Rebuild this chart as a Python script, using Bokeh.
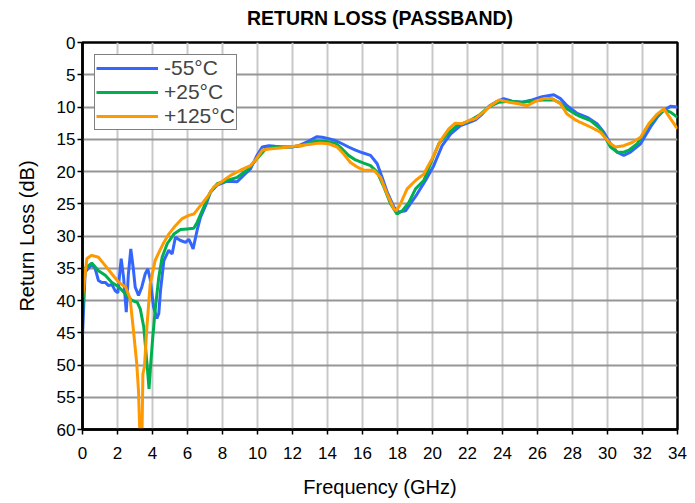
from bokeh.plotting import figure
from bokeh.models import Range1d, FixedTicker, LinearAxis
from bokeh.embed import file_html
from bokeh.resources import INLINE

# ---- data ----
freq_m55 = [0, 0.15, 0.34, 0.53, 0.72, 0.91, 1.1, 1.3, 1.49, 1.68, 1.87, 2.02, 2.21, 2.35, 2.5, 2.62, 2.76, 2.9,
            3.01, 3.2, 3.39, 3.58, 3.73, 3.87, 4.06, 4.25, 4.36, 4.46, 4.65, 4.93, 5.12, 5.31, 5.6, 5.89, 6.07,
            6.2, 6.32, 6.55, 6.74, 7.03, 7.31, 7.7, 8.27, 8.84, 9.2, 9.6, 9.95, 10.27, 10.65, 11.0, 11.4, 11.97,
            12.36, 12.93, 13.4, 13.7, 14.07, 14.45, 14.84, 15.2, 15.6, 16.0, 16.46, 16.84, 17.12, 17.41, 17.79,
            18.08, 18.46, 18.74, 19.12, 19.6, 20.07, 20.55, 21.03, 21.6, 22.07, 22.46, 22.84, 23.22, 23.6, 24.07,
            24.55, 25.12, 25.69, 26.27, 26.93, 27.31, 27.69, 28.27, 28.84, 29.4, 29.79, 30.17, 30.55, 30.93,
            31.31, 31.89, 32.46, 32.84, 33.22, 33.6, 34.0]
rl_m55 = [45.4, 35.6, 35.0, 34.5, 35.0, 36.9, 37.2, 37.2, 37.7, 37.5, 38.5, 38.8, 33.5, 36.5, 41.8, 36.0, 32.0, 35.0,
          37.9, 39.2, 37.9, 35.9, 35.1, 36.7, 41.0, 42.8, 42.0, 38.4, 33.8, 32.2, 32.8, 30.2, 30.7, 31.0, 30.5,
          31.2, 32.0, 29.1, 27.1, 25.3, 23.2, 22.1, 21.5, 21.6, 20.6, 19.6, 17.6, 16.2, 16.0, 16.1, 16.2, 16.2,
          16.0, 15.3, 14.6, 14.7, 14.9, 15.2, 15.7, 16.2, 16.7, 17.1, 17.5, 18.8, 20.9, 23.2, 25.5,
          26.3, 26.1, 25.0, 23.5, 21.4, 19.1, 16.0, 14.2, 12.9, 12.4, 12.0, 11.1, 9.9, 9.25, 8.7,
          9.1, 9.25, 8.9, 8.4, 8.1, 8.7, 9.8, 11.0, 11.6, 12.6, 13.9, 15.7, 17.0, 17.5,
          17.0, 15.7, 13.1, 11.6, 10.5, 9.9, 10.0]

freq_p25 = [0, 0.15, 0.53, 0.91, 1.3, 1.68, 2.08, 2.46, 2.84, 3.13, 3.3, 3.5, 3.7, 3.8, 3.9, 4.0, 4.17, 4.36, 4.55,
            4.84, 5.22, 5.6, 5.98, 6.36, 6.55, 6.93, 7.31, 7.7, 8.27, 8.84, 9.4, 9.98, 10.46, 11.0, 11.8, 12.55,
            13.31, 13.9, 14.45, 14.84, 15.2, 15.6, 16.07, 16.46, 16.84, 17.22, 17.6, 17.98, 18.27, 18.65, 19.03,
            19.5, 19.89, 20.36, 20.84, 21.4, 22.07, 22.65, 23.22, 23.8, 24.36, 25.12, 25.69, 26.27, 26.93, 27.31,
            27.69, 28.17, 28.46, 29.03, 29.6, 30.17, 30.55, 30.93, 31.22, 31.7, 32.27, 32.74, 33.22, 33.6, 34.0]
rl_p25 = [41.8, 35.0, 34.2, 35.4, 36.1, 37.2, 37.9, 39.0, 40.0, 40.3, 41.3, 44.1, 50.3, 53.7, 49.8, 46.2, 41.0, 36.4,
          33.3, 31.2, 29.7, 29.0, 28.9, 28.8, 27.9, 25.5, 23.2, 21.9, 21.4, 20.9, 19.8, 18.0, 16.5, 16.2, 16.2,
          16.0, 15.3, 15.3, 15.6, 16.5, 17.5, 18.2, 18.7, 19.1, 20.1, 22.4, 25.0, 26.6, 26.1, 24.8, 22.7, 21.4,
          18.8, 15.7, 14.2, 12.9, 12.2, 11.3, 10.0, 9.25, 9.1, 9.25, 9.1, 8.9, 8.9, 9.4, 10.3, 11.1, 11.5, 12.1,
          13.4, 16.2, 17.0, 17.0, 16.7, 15.7, 13.1, 11.6, 10.4, 10.8, 11.6]

freq_p125 = [0, 0.25, 0.53, 0.91, 1.3, 1.68, 2.08, 2.46, 2.72, 2.91, 3.1, 3.2, 3.28, 3.4, 3.45, 3.54, 3.68, 3.87,
             4.15, 4.34, 4.65, 4.93, 5.31, 5.7, 6.07, 6.36, 6.74, 7.12, 7.5, 7.89, 8.46, 9.03, 9.6, 9.95, 10.27,
             10.65, 11.4, 12.1, 12.93, 13.5, 14.07, 14.55, 14.93, 15.31, 15.7, 16.07, 16.65, 17.03, 17.41, 17.79,
             17.94, 18.17, 18.55, 19.03, 19.5, 19.98, 20.46, 20.93, 21.3, 21.7, 22.07, 22.46, 23.03, 23.31, 23.8,
             24.36, 24.93, 25.41, 25.89, 26.36, 26.84, 27.31, 27.69, 28.17, 28.46, 29.03, 29.6, 30.17, 30.46,
             30.93, 31.41, 31.89, 32.36, 32.84, 33.22, 33.6, 34.0]
rl_p125 = [39.5, 33.5, 33.0, 33.3, 34.6, 35.9, 37.2, 37.9, 39.7, 44.6, 49.8, 54.0, 61.0, 61.0, 51.4, 50.3, 44.1,
           37.4, 33.8, 32.7, 31.0, 29.7, 28.4, 27.3, 26.8, 26.6, 25.3, 24.0, 22.4, 21.7, 20.6, 19.8, 19.1, 18.0,
           16.7, 16.5, 16.3, 16.1, 15.8, 15.6, 15.7, 16.2, 17.3, 18.6, 19.3, 19.8, 19.8, 20.9, 23.5, 25.8, 26.1,
           25.0, 22.7, 21.4, 20.4, 18.0, 15.2, 13.4, 12.5, 12.6, 12.1, 11.8, 10.5, 9.8, 8.9, 9.25, 9.5, 9.8, 9.1,
           8.7, 8.7, 9.5, 11.1, 12.0, 12.4, 13.1, 13.9, 15.7, 16.2, 16.0, 15.5, 14.7, 12.6, 11.1, 10.3, 11.8, 13.4]

series_names = ["-55\u00b0C", "+25\u00b0C", "+125\u00b0C"]
series_colors = ["#3366ff", "#00b050", "#ff9900"]
x_ticks = list(range(0, 35, 2))
y_ticks = list(range(0, 61, 5))
chart_title = "RETURN LOSS (PASSBAND)"

FONT = "Liberation Sans"

p = figure(width=695, height=503, output_backend="svg", toolbar_location=None,
           x_range=Range1d(0, 34), y_range=Range1d(60, 0),
           min_border_left=82, min_border_right=18, min_border_top=42, min_border_bottom=74,
           background_fill_color="white", border_fill_color="white")

p.outline_line_color = "black"
p.outline_line_width = 2.5

xax = p.below[0]
yax = p.left[0]

# grid
p.xgrid.ticker = FixedTicker(ticks=x_ticks)
p.ygrid.ticker = FixedTicker(ticks=y_ticks)
p.xgrid.grid_line_color = "#c8c8c8"
p.xgrid.grid_line_width = 2
p.ygrid.grid_line_color = "#969696"
p.ygrid.grid_line_width = 2

# axes
for ax in (xax, yax):
    ax.axis_line_color = "black"
    ax.axis_line_width = 2.5
    ax.major_tick_line_color = "black"
    ax.major_tick_line_width = 1.5
    ax.major_tick_in = 0
    ax.major_tick_out = 5
    ax.minor_tick_line_color = None
    ax.major_label_text_font = FONT
    ax.major_label_text_font_size = "17px"
    ax.major_label_text_color = "black"
    ax.axis_label_text_font = FONT
    ax.axis_label_text_font_size = "20px"
    ax.axis_label_text_font_style = "normal"
    ax.axis_label_text_color = "black"

xax.ticker = FixedTicker(ticks=x_ticks)
yax.ticker = FixedTicker(ticks=y_ticks)
xax.axis_label = "Frequency (GHz)"
yax.axis_label = "Return Loss (dB)"
xax.major_label_standoff = 12
yax.major_label_standoff = 2
xax.axis_label_standoff = 14
yax.axis_label_standoff = 16

# title drawn as the label of a bare axis above the frame
top_axis = LinearAxis(ticker=FixedTicker(ticks=[]), axis_label=chart_title,
                      axis_line_color=None, major_tick_line_color=None, minor_tick_line_color=None,
                      major_tick_in=0, major_tick_out=0, major_label_standoff=0,
                      major_label_text_font_size="0px",
                      axis_label_text_font=FONT, axis_label_text_font_size="19.5px",
                      axis_label_text_font_style="bold", axis_label_text_color="black",
                      axis_label_standoff=14)
p.add_layout(top_axis, "above")

# lines
for fx, fy, name, col in zip([freq_m55, freq_p25, freq_p125], [rl_m55, rl_p25, rl_p125],
                             series_names, series_colors):
    p.line(fx, fy, line_color=col, line_width=3, legend_label=name)

# legend
lg = p.legend[0]
lg.location = "top_left"
lg.margin = 12
lg.padding = 1
lg.spacing = 0
lg.glyph_width = 62
lg.glyph_height = 20
lg.label_height = 20
lg.label_standoff = 6
lg.label_text_font = FONT
lg.label_text_font_size = "21px"
lg.label_text_line_height = 0.85
lg.border_line_color = "black"
lg.border_line_width = 1.5
lg.background_fill_alpha = 1.0

open("out.html", "w").write(file_html(p, INLINE))
